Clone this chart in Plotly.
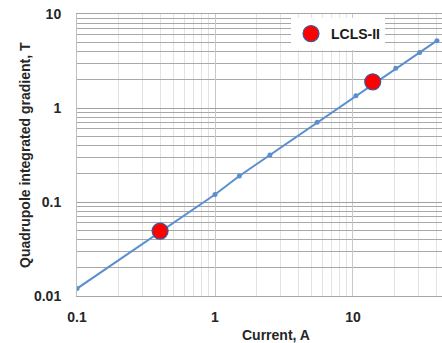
import plotly.graph_objects as go

current = [0.1, 1, 1.5, 2.5, 5.5, 10.5, 20.4, 30.4, 40.6]
gradient = [0.012, 0.12, 0.189, 0.316, 0.705, 1.35, 2.64, 3.9, 5.2]

lcls_current = [0.4, 13.9]
lcls_gradient = [0.049, 1.9]

x_major = [0.1, 1, 10]
x_labels = ["0.1", "1", "10"]
y_major = [0.01, 0.1, 1, 10]
y_labels = ["0.01", "0.1", "1", "10"]

x_minor = [m * d for d in [0.1, 1, 10] for m in range(2, 10)]
y_minor = [m * d for d in [0.01, 0.1, 1] for m in range(2, 10)]

W, H = 442, 343
L, R, T, B = 77, 0, 14, 47

fig = go.Figure()
fig.add_trace(go.Scatter(
    x=current, y=gradient, mode="lines+markers",
    line=dict(color="#5B8FD0", width=2),
    marker=dict(size=5, color="#5B8FD0"),
    showlegend=False,
))
fig.add_trace(go.Scatter(
    x=lcls_current, y=lcls_gradient, mode="markers", name="LCLS-II",
    marker=dict(size=16, color="#FF0000", line=dict(color="#3A5A9A", width=1.2)),
))

tickfont = dict(family="Liberation Sans", size=14, color="#262626", weight="bold")
fig.update_xaxes(
    type="log", range=[-1, 1.645],
    tickmode="array", tickvals=x_major, ticktext=x_labels,
    tickfont=tickfont, ticks="", ticklabelstandoff=8,
    showgrid=True, gridcolor="#C8C8C8", gridwidth=1,
    minor=dict(tickmode="array", tickvals=x_minor, showgrid=True,
               gridcolor="#E3E3E3", gridwidth=1, ticks=""),
    showline=True, linecolor="#A6A6A6", linewidth=1, mirror=True,
    zeroline=False, automargin=False,
)
fig.update_yaxes(
    type="log", range=[-2, 1],
    tickmode="array", tickvals=y_major, ticktext=y_labels,
    tickfont=tickfont, ticks="", ticklabelstandoff=12,
    showgrid=True, gridcolor="#A0A0A0", gridwidth=1,
    minor=dict(tickmode="array", tickvals=y_minor, showgrid=True,
               gridcolor="#A8A8A8", gridwidth=1, ticks=""),
    showline=True, linecolor="#BFBFBF", linewidth=1,
    zeroline=False, automargin=False,
)

fig.add_annotation(
    text="<b>Current, A</b>", xref="paper", yref="paper",
    x=(276 - L) / (W - L - R), y=-(335 - (H - B)) / (H - T - B),
    xanchor="center", yanchor="middle", showarrow=False,
    font=dict(family="Liberation Sans", size=14, color="#262626"),
)
fig.add_annotation(
    text="<b>Quadrupole integrated gradient, T</b>", xref="paper", yref="paper",
    x=-(L - 25) / (W - L - R), y=0.5,
    xanchor="center", yanchor="middle", textangle=-90, showarrow=False,
    font=dict(family="Liberation Sans", size=14, color="#262626"),
)

fig.update_layout(
    width=W, height=H,
    margin=dict(l=L, r=R, t=T, b=B),
    paper_bgcolor="white", plot_bgcolor="white",
    legend=dict(
        x=(291 - L) / (W - L - R), y=(H - B - 34) / (H - T - B),
        xanchor="left", yanchor="middle",
        bgcolor="white", borderwidth=0,
        font=dict(family="Liberation Sans", size=14, color="#1a1a1a", weight="bold"),
        itemsizing="trace",
    ),
)

fig.write_html("out.html", config={"displayModeBar": False},
               post_script="document.body.style.margin='0px';")
